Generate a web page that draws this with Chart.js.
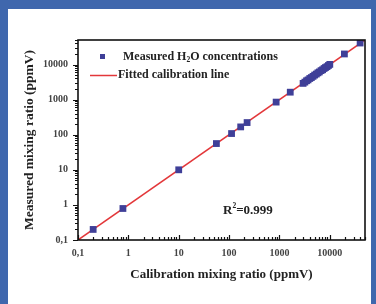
<!DOCTYPE html>
<html>
<head>
<meta charset="utf-8">
<script src="https://cdn.jsdelivr.net/npm/chart.js@4/dist/chart.umd.min.js"></script>
<style>
    html, body { margin: 0; padding: 0; }
    body { width: 376px; height: 304px; background: #3f67ad; position: relative; overflow: hidden; }
    #paper { position: absolute; left: 8px; top: 9px; width: 363px; height: 295px; background: #fff; }
    #chart { position: absolute; left: 0; top: 0; }
</style>
</head>
<body>
<div id="paper"></div>
<canvas id="chart" width="376" height="304"></canvas>
<script>
// calibration vs measured H2O (ppmV)
const calibration = [0.2, 0.78, 10, 56, 112, 170, 228, 860, 1640,
    2950, 3200, 3450, 3700, 4000, 4300, 4650, 5000, 5400, 5800, 6200, 6700, 7200, 7700, 8200, 8800, 9400, 10000,
    19500, 40000];
const measured = [0.2, 0.79, 10, 56, 108, 167, 222, 850, 1630,
    2900, 3150, 3450, 3650, 4000, 4250, 4600, 5000, 5350, 5800, 6150, 6700, 7100, 7700, 8200, 8700, 9400, 10100,
    20000, 41000];

// fitted calibration line end points
const fitX = [0.1, 50000];
const fitY = [0.1, 50000];

const majorTicks = [0.1, 1, 10, 100, 1000, 10000];
const tickLabels = ['0,1', '1', '10', '100', '1000', '10000'];

const serif = "'Liberation Serif', 'Times New Roman', serif";

function tickText(v) {
    const i = majorTicks.indexOf(v);
    return i >= 0 ? tickLabels[i] : '';
}

// frame + inward x ticks, outward y ticks
const frameTicks = {
    id: 'frameTicks',
    afterDraw(chart) {
        const { ctx, chartArea: a, scales: { x, y } } = chart;
        ctx.save();
        ctx.strokeStyle = '#111';
        ctx.lineWidth = 1.2;
        ctx.beginPath();
        for (const d of majorTicks) {
            for (let m = 1; m < 10; m++) {
                const v = d * m;
                const len = m === 1 ? 5 : 3;
                if (v >= x.min && v <= x.max) {
                    const px = Math.round(x.getPixelForValue(v)) + 0.5;
                    ctx.moveTo(px, a.bottom);
                    ctx.lineTo(px, a.bottom - len);
                }
                if (v >= y.min && v <= y.max) {
                    const py = Math.round(y.getPixelForValue(v)) + 0.5;
                    ctx.moveTo(a.left, py);
                    ctx.lineTo(a.left - len, py);
                }
            }
        }
        ctx.stroke();
        ctx.lineWidth = 1.6;
        ctx.strokeRect(a.left, a.top, a.right - a.left, a.bottom - a.top);
        ctx.restore();
    }
};

// legend box in the upper left of the plot, and the R² note
const notes = {
    id: 'notes',
    afterDraw(chart) {
        const { ctx, chartArea: a } = chart;
        const ds = chart.data.datasets;
        ctx.save();
        ctx.textBaseline = 'middle';

        // scatter entry
        ctx.fillStyle = ds[0].backgroundColor;
        ctx.fillRect(a.left + 22, a.top + 14, 5, 5);
        ctx.fillStyle = '#222';
        ctx.font = 'bold 12px ' + serif;
        let tx = a.left + 45;
        const ty = a.top + 17;
        ctx.fillText('Measured H', tx, ty);
        tx += ctx.measureText('Measured H').width;
        ctx.font = 'bold 7.5px ' + serif;
        ctx.fillText('2', tx, ty + 3);
        tx += ctx.measureText('2').width;
        ctx.font = 'bold 12px ' + serif;
        ctx.fillText('O concentrations', tx, ty);

        // line entry
        ctx.strokeStyle = ds[1].borderColor;
        ctx.lineWidth = 1.5;
        ctx.beginPath();
        ctx.moveTo(a.left + 12, a.top + 35.5);
        ctx.lineTo(a.left + 39, a.top + 35.5);
        ctx.stroke();
        ctx.fillText(ds[1].label, a.left + 40, a.top + 35);

        // R squared
        let rx = a.left + 145;
        const ry = a.top + 171;
        ctx.font = 'bold 13px ' + serif;
        ctx.fillText('R', rx, ry);
        rx += ctx.measureText('R').width;
        ctx.font = 'bold 7.5px ' + serif;
        ctx.fillText('2', rx, ry - 5);
        rx += ctx.measureText('2').width;
        ctx.font = 'bold 13px ' + serif;
        ctx.fillText('=0.999', rx, ry);
        ctx.restore();
    }
};

new Chart(document.getElementById('chart'), {
    type: 'scatter',
    data: {
        datasets: [
            {
                label: 'Measured H2O concentrations',
                data: calibration.map((c, i) => ({ x: c, y: measured[i] })),
                pointStyle: 'rect',
                pointRadius: 4.8,
                borderWidth: 0,
                backgroundColor: '#3f3f98',
                borderColor: '#3f3f98',
                order: 1
            },
            {
                label: 'Fitted calibration line',
                type: 'line',
                data: fitX.map((c, i) => ({ x: c, y: fitY[i] })),
                borderColor: '#e3373a',
                borderWidth: 1.5,
                pointRadius: 0,
                fill: false,
                order: 2
            }
        ]
    },
    options: {
        responsive: false,
        animation: false,
        layout: { padding: { top: 40, right: 11, left: 0, bottom: 0 } },
        plugins: {
            legend: { display: false },
            tooltip: { enabled: false }
        },
        scales: {
            x: {
                type: 'logarithmic',
                min: 0.1,
                max: 50000,
                grid: { display: false, drawTicks: false },
                border: { display: false },
                afterBuildTicks: (s) => { s.ticks = majorTicks.map(v => ({ value: v })); },
                afterFit: (s) => { s.height = 64; },
                ticks: {
                    autoSkip: false,
                    maxRotation: 0,
                    padding: 7,
                    color: '#444',
                    font: { family: serif, size: 10, weight: 'bold' },
                    callback: (v) => tickText(v)
                },
                title: {
                    display: true,
                    text: 'Calibration mixing ratio (ppmV)',
                    color: '#222',
                    padding: { bottom: 22 },
                    font: { family: serif, size: 13, weight: 'bold' }
                }
            },
            y: {
                type: 'logarithmic',
                min: 0.1,
                max: 50000,
                grid: { display: false, drawTicks: false },
                border: { display: false },
                afterBuildTicks: (s) => { s.ticks = majorTicks.map(v => ({ value: v })); },
                afterFit: (s) => { s.width = 78; },
                ticks: {
                    autoSkip: false,
                    padding: 10,
                    color: '#444',
                    font: { family: serif, size: 10, weight: 'bold' },
                    callback: (v) => tickText(v)
                },
                title: {
                    display: true,
                    text: 'Measured mixing ratio (ppmV)',
                    color: '#222',
                    padding: { top: 21 },
                    font: { family: serif, size: 13.5, weight: 'bold' }
                }
            }
        }
    },
    plugins: [frameTicks, notes]
});
</script>
</body>
</html>
